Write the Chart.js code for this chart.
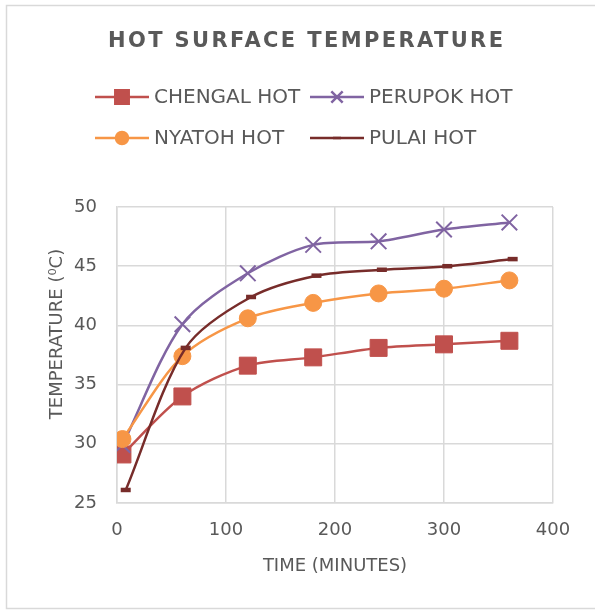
<!DOCTYPE html>
<html>
<head>
<meta charset="utf-8">
<script src="https://cdn.jsdelivr.net/npm/chart.js@4.4.0/dist/chart.umd.min.js"></script>
<style>
  html, body { margin: 0; padding: 0; background: #fff; }
</style>
</head>
<body>
<canvas id="myChart" width="595" height="610"></canvas>
<script>
// data
const timeMinutes = [5, 60, 120, 180, 240, 300, 360];
const pulaiTime = [8, 63, 123, 183, 243, 303, 363];
const chengalHot = [29.1, 34.0, 36.6, 37.3, 38.1, 38.4, 38.7];
const perupokHot = [29.9, 40.1, 44.4, 46.8, 47.1, 48.1, 48.7];
const nyatohHot = [30.4, 37.4, 40.6, 41.9, 42.7, 43.1, 43.8];
const pulaiHot = [26.1, 38.1, 42.4, 44.2, 44.7, 45.0, 45.6];
const xTicks = [0, 100, 200, 300, 400];
const yTicks = [25, 30, 35, 40, 45, 50];

const FONT = '"DejaVu Sans", sans-serif';
const GREY = '#595959';
const GRID = '#d9d9d9';

function toPoints(xs, ys) {
    return xs.map((x, i) => ({ x: x, y: ys[i] }));
}

// title, y axis title, 2-column legend and outer frame (Excel style)
const excelDecor = {
    id: 'excelDecor',
    afterDraw: function(chart) {
        const ctx = chart.ctx;
        ctx.save();
        ctx.strokeStyle = GRID;
        ctx.lineWidth = 1.5;
        ctx.strokeRect(6.5, 5.5, 600, 603);

        ctx.fillStyle = GREY;
        ctx.textBaseline = 'middle';
        ctx.textAlign = 'left';
        ctx.font = 'bold 21px ' + FONT;
        const title = 'HOT SURFACE TEMPERATURE';
        ctx.letterSpacing = '0px';
        const w = ctx.measureText(title).width;
        ctx.letterSpacing = ((395 - w) / (title.length - 1)) + 'px';
        ctx.fillText(title, 108, 42);
        ctx.letterSpacing = '0px';

        // y axis title sits a little above the middle in the original
        ctx.save();
        ctx.font = '18px ' + FONT;
        ctx.textAlign = 'center';
        ctx.translate(57, 334);
        ctx.rotate(-Math.PI / 2);
        ctx.fillText('TEMPERATURE (⁰C)', 0, 0);
        ctx.restore();

        ctx.font = '20px ' + FONT;
        chart.data.datasets.forEach(function(ds, i) {
            const x0 = 95 + (i % 2) * 215;
            const y0 = 97 + Math.floor(i / 2) * 41;
            ctx.strokeStyle = ds.borderColor;
            ctx.lineWidth = ds.borderWidth;
            ctx.beginPath();
            ctx.moveTo(x0, y0);
            ctx.lineTo(x0 + 54, y0);
            ctx.stroke();
            ctx.fillStyle = ds.pointBackgroundColor;
            ctx.strokeStyle = ds.pointBorderColor;
            Chart.helpers.drawPoint(ctx, {
                pointStyle: ds.pointStyle,
                radius: ds.legendRadius,
                borderWidth: ds.pointBorderWidth,
                rotation: 0
            }, x0 + 27, y0);
            ctx.fillStyle = GREY;
            ctx.fillText(ds.label, x0 + 59, y0 + 1);
        });
        ctx.restore();
    }
};

const ctx = document.getElementById('myChart').getContext('2d');

new Chart(ctx, {
    type: 'scatter',
    data: {
        datasets: [
            {
                label: 'CHENGAL HOT',
                data: toPoints(timeMinutes, chengalHot),
                borderColor: '#C0504D',
                borderWidth: 2.5,
                pointStyle: 'rect',
                pointRadius: 12,
                legendRadius: 9.5,
                pointBackgroundColor: '#C0504D',
                pointBorderColor: '#C0504D',
                pointBorderWidth: 1,
                order: 4
            },
            {
                label: 'PERUPOK HOT',
                data: toPoints(timeMinutes, perupokHot),
                borderColor: '#8064A2',
                borderWidth: 2.5,
                pointStyle: 'crossRot',
                pointRadius: 11,
                legendRadius: 8,
                pointBackgroundColor: '#8064A2',
                pointBorderColor: '#8064A2',
                pointBorderWidth: 2,
                order: 3
            },
            {
                label: 'NYATOH HOT',
                data: toPoints(timeMinutes, nyatohHot),
                borderColor: '#F79646',
                borderWidth: 2.5,
                pointStyle: 'circle',
                pointRadius: 8.5,
                legendRadius: 6,
                pointBackgroundColor: '#F79646',
                pointBorderColor: '#F79646',
                pointBorderWidth: 1,
                order: 2
            },
            {
                label: 'PULAI HOT',
                data: toPoints(pulaiTime, pulaiHot),
                borderColor: '#772C2A',
                borderWidth: 2.5,
                pointStyle: 'line',
                pointRadius: 5,
                legendRadius: 4,
                pointBackgroundColor: '#772C2A',
                pointBorderColor: '#772C2A',
                pointBorderWidth: 4.5,
                order: 1
            }
        ]
    },
    options: {
        responsive: false,
        animation: false,
        events: [],
        showLine: true,
        elements: { line: { tension: 0.3 } },
        layout: { padding: { top: 207, right: 42, left: 0, bottom: 0 } },
        plugins: {
            legend: { display: false },
            title: { display: false },
            tooltip: { enabled: false }
        },
        scales: {
            x: {
                type: 'linear',
                min: xTicks[0],
                max: xTicks[xTicks.length - 1],
                afterBuildTicks: function(scale) { scale.ticks = xTicks.map(v => ({ value: v })); },
                afterFit: function(scale) { scale.height = 107; },
                ticks: { color: GREY, font: { family: FONT, size: 18 }, padding: 17 },
                grid: { color: GRID, lineWidth: 1.5, drawTicks: false },
                border: { color: GRID, width: 1.5 },
                title: {
                    display: true,
                    text: 'TIME (MINUTES)',
                    color: GREY,
                    font: { family: FONT, size: 18 },
                    padding: { top: 0, bottom: 33 }
                }
            },
            y: {
                type: 'linear',
                min: yTicks[0],
                max: yTicks[yTicks.length - 1],
                afterBuildTicks: function(scale) { scale.ticks = yTicks.map(v => ({ value: v })); },
                afterFit: function(scale) { scale.width = 117; },
                ticks: { color: GREY, font: { family: FONT, size: 18 }, padding: 20 },
                grid: { color: GRID, lineWidth: 1.5, drawTicks: false },
                border: { color: GRID, width: 1.5 },
                title: { display: false }
            }
        }
    },
    plugins: [excelDecor]
});
</script>
</body>
</html>
